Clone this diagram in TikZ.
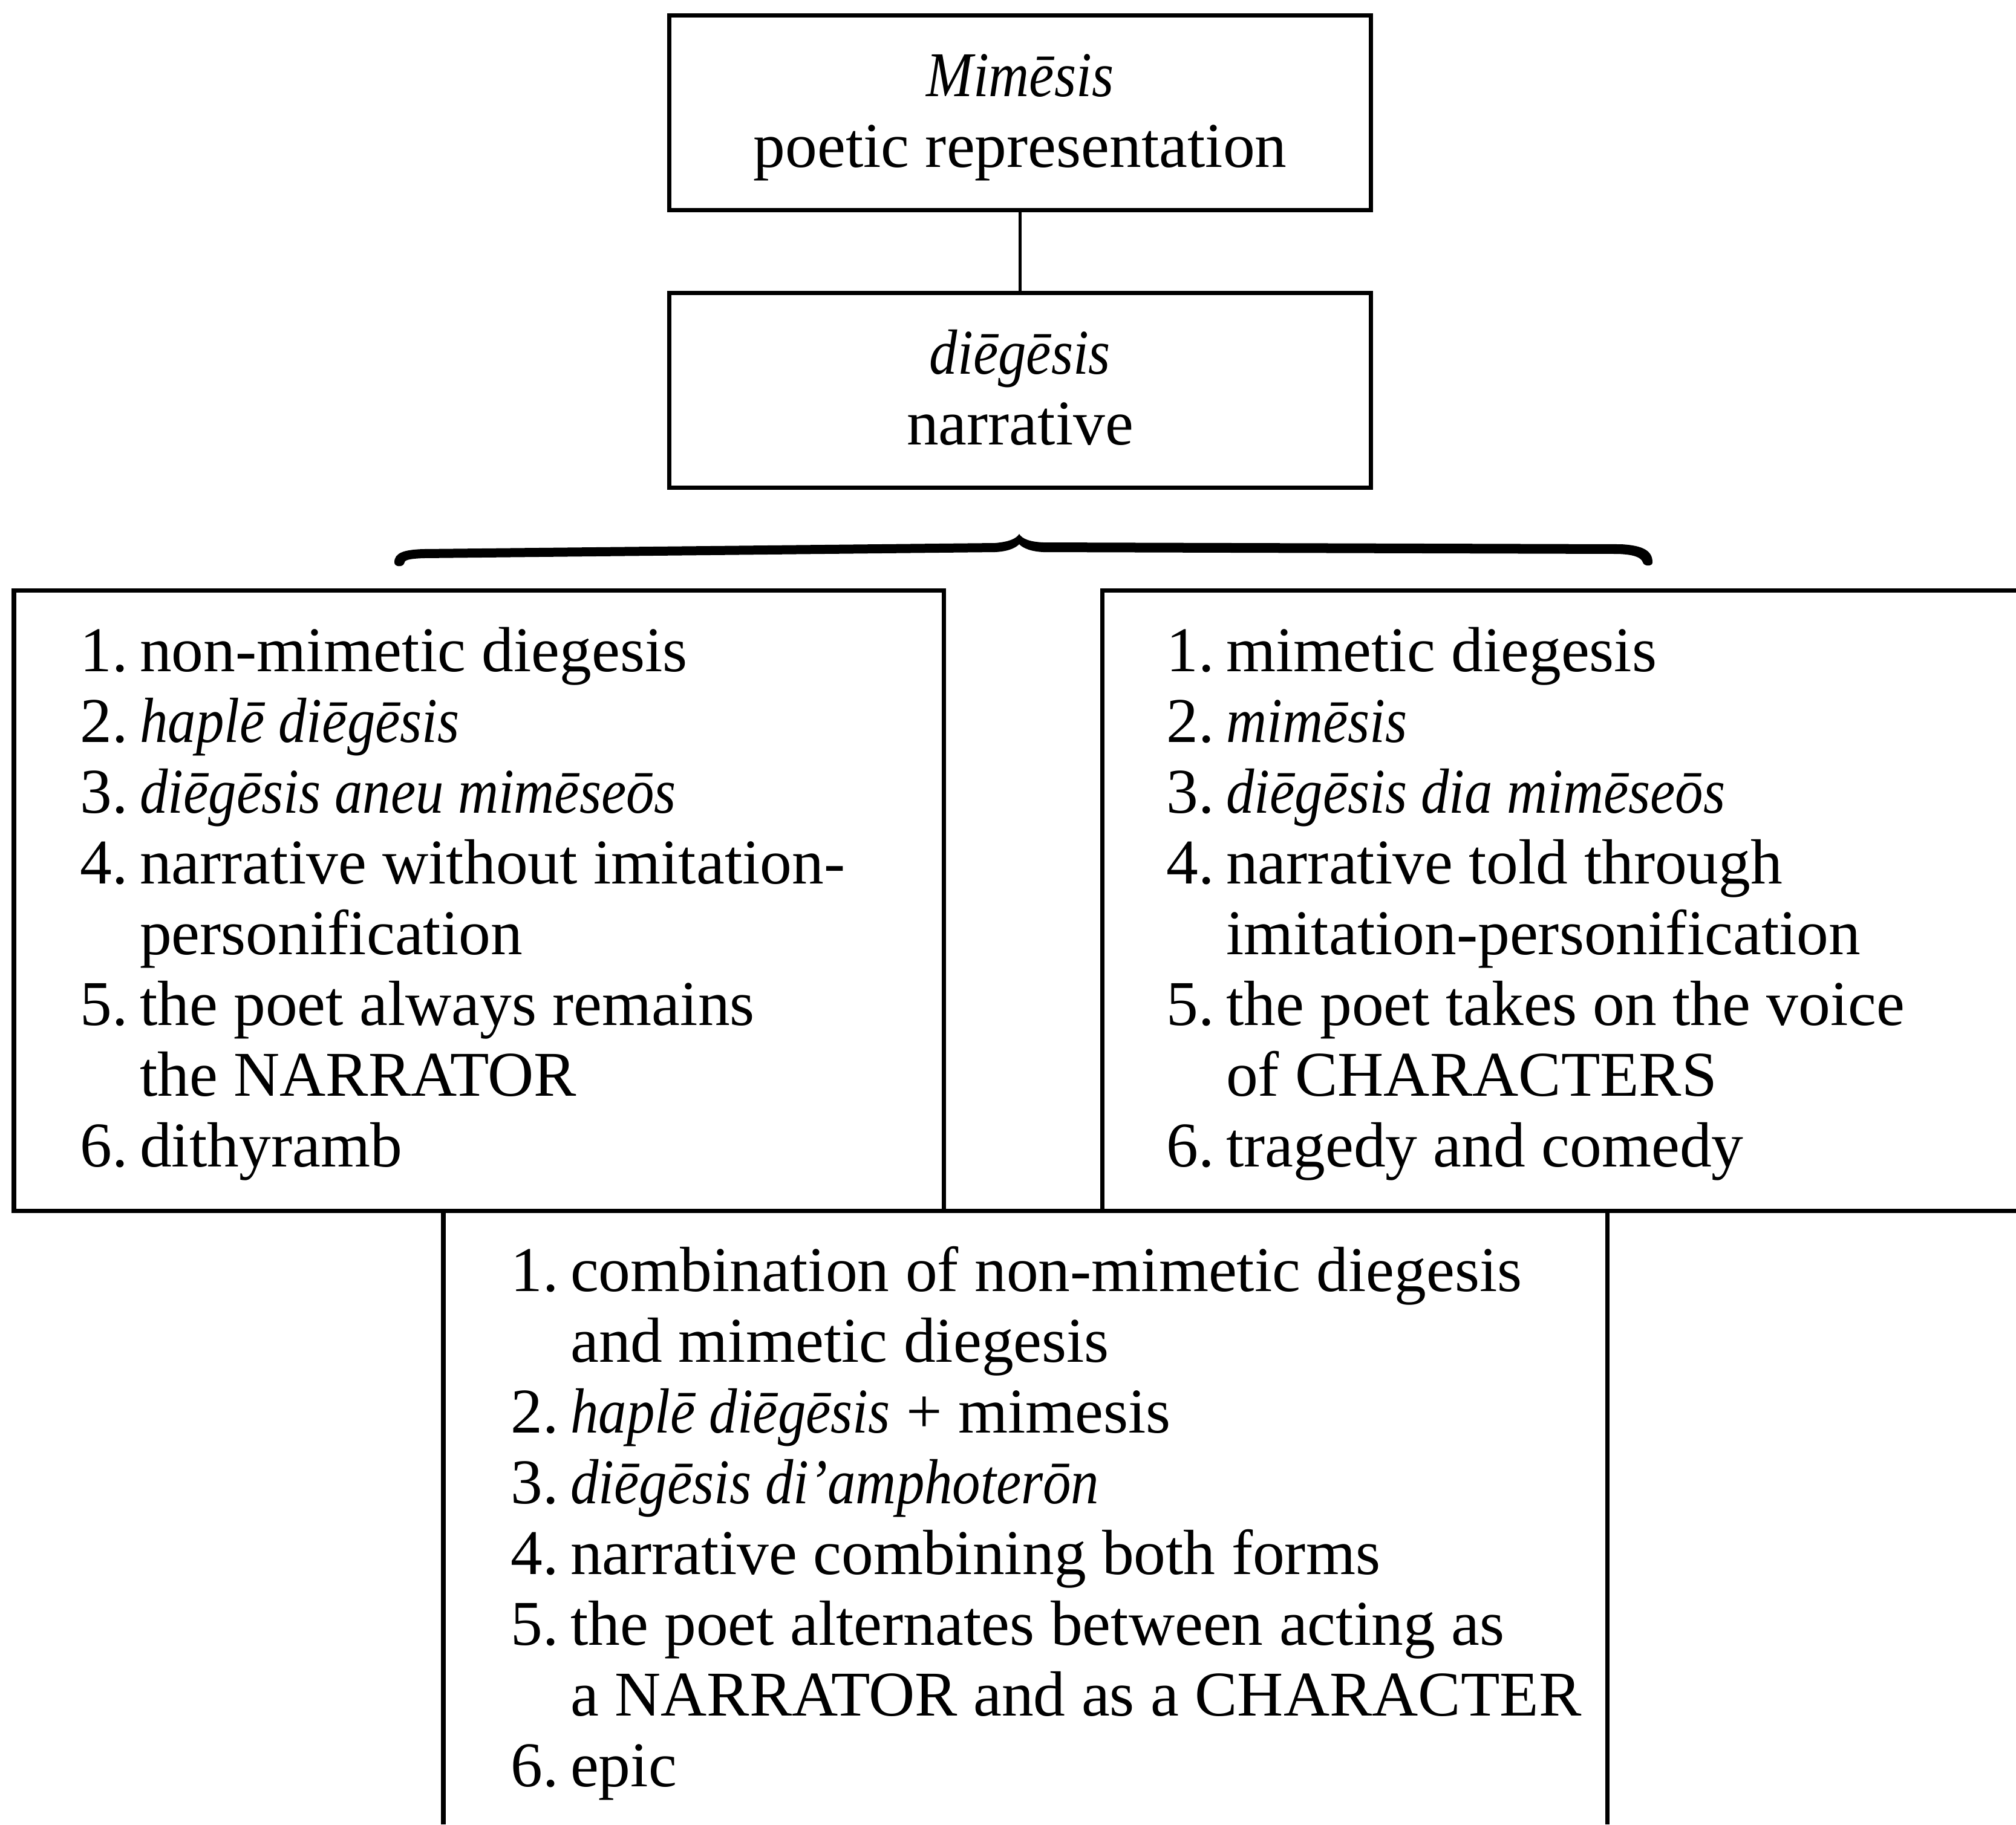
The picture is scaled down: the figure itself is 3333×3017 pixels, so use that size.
\documentclass[tikz,border=0pt]{standalone}
\usepackage{fontspec}
\setmainfont{Liberation Serif}[ItalicFeatures={FakeStretch=0.88}]
\tikzset{
  frame/.style={line width=2pt, line join=miter},
  box/.style={draw, frame, rectangle, inner sep=0pt, minimum width=11.59cm, minimum height=3.21cm},
  txt/.style={inner sep=0pt, font=\fontsize{30}{33.3}\selectfont},
  link/.style={line width=1.6pt},
}
\newcommand{\numlist}[1]{\begin{tabular}[t]{@{}l@{\hspace{5.5pt}}l@{}}#1\end{tabular}}
\begin{document}
\begin{tikzpicture}[x=0.01cm, y=-0.01cm]
\useasboundingbox (0,0) rectangle (3333,3017);

% upper hierarchy
\node[box] (mim) at (1686.5,186.5) {};
\node[box] (dieg) at (1686.5,645.5) {};
\draw[link] (mim.south) -- (dieg.north);

\node[txt, anchor=base] (mimA) at (1686.5,159) {\textit{Mimēsis}};
\node[txt, anchor=base] (mimB) at (1686.5,276) {poetic representation};
\node[txt, anchor=base] (diegA) at (1686.5,618) {\textit{diēgēsis}};
\node[txt, anchor=base] (diegB) at (1686.5,735) {narrative};

% horizontal brace
\fill (652,930)
  .. controls (652,914) and (668,909) .. (700,908)
  -- (1645,898)
  .. controls (1668,896) and (1680,891) .. (1685,883)
  .. controls (1690,891) and (1702,896) .. (1725,897)
  -- (2680,900)
  .. controls (2717,902) and (2732,911) .. (2732,930)
  .. controls (2732,937) and (2718,937) .. (2716,930)
  .. controls (2713,921) and (2700,917) .. (2675,916)
  -- (1725,913)
  .. controls (1705,912) and (1692,907) .. (1685,900)
  .. controls (1678,907) and (1665,912) .. (1645,913)
  -- (700,923)
  .. controls (676,924) and (668,926) .. (668,932)
  .. controls (666,938) and (652,938) .. (652,930) -- cycle;

% lower frames
\draw[frame] (3333,2002) -- (23,2002) -- (23,976) -- (1560,976) -- (1560,2002);
\draw[frame] (1822,2002) -- (1822,976) -- (3333,976);
\draw[frame] (733,2002) -- (733,3017);
\draw[frame] (2657,2002) -- (2657,3017);

% lists
\node[txt, anchor=base west] (left) at (132,1110) {\numlist{
1. & non-mimetic diegesis\\
2. & \textit{haplē diēgēsis}\\
3. & \textit{diēgēsis aneu mimēseōs}\\
4. & narrative without imitation-\\
   & personification\\
5. & the poet always remains\\
   & the NARRATOR\\
6. & dithyramb}};

\node[txt, anchor=base west] (right) at (1928,1110) {\numlist{
1. & mimetic diegesis\\
2. & \textit{mimēsis}\\
3. & \textit{diēgēsis dia mimēseōs}\\
4. & narrative told through\\
   & imitation-personification\\
5. & the poet takes on the voice\\
   & of CHARACTERS\\
6. & tragedy and comedy}};

\node[txt, anchor=base west] (mixed) at (844,2135) {\numlist{
1. & combination of non-mimetic diegesis\\
   & and mimetic diegesis\\
2. & \textit{haplē diēgēsis} + mimesis\\
3. & \textit{diēgēsis di’amphoterōn}\\
4. & narrative combining both forms\\
5. & the poet alternates between acting as\\
   & a NARRATOR and as a CHARACTER\\
6. & epic}};
\end{tikzpicture}
\end{document}
